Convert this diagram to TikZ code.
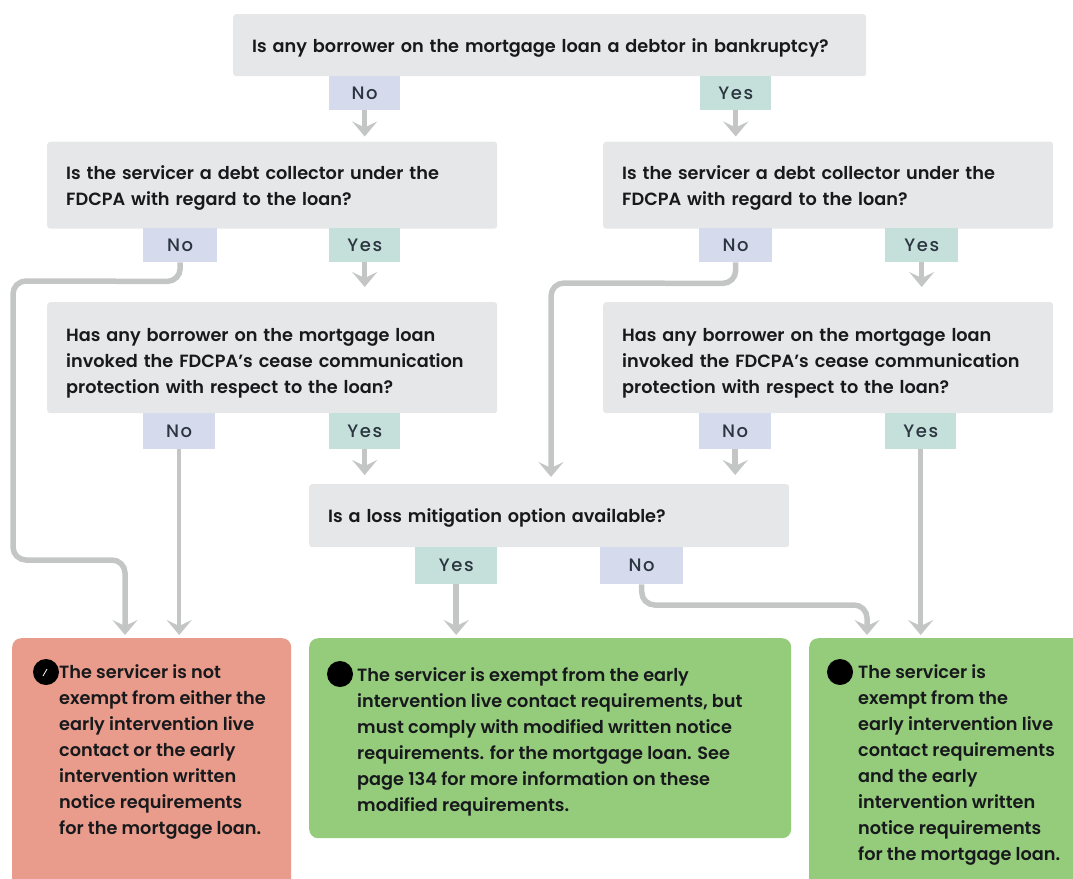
\documentclass[tikz,border=0pt]{standalone}
\usepackage{fontspec}
\setmainfont{Poppins}[UprightFont=* Medium,BoldFont=* SemiBold]
\usetikzlibrary{arrows.meta,calc}
\definecolor{qgray}{HTML}{E6E7E8}
\definecolor{nofill}{HTML}{D5DBEC}
\definecolor{yesfill}{HTML}{C5DFDB}
\definecolor{redfill}{HTML}{E99C8B}
\definecolor{greenfill}{HTML}{95CC7C}
\definecolor{linegray}{HTML}{C4C6C6}
\definecolor{ink}{HTML}{17191C}
\definecolor{tagink}{HTML}{2A3540}
\tikzset{
  x=1pt,y=-1pt,
  qbox/.style={fill=qgray,rounded corners=3pt,anchor=north west,inner xsep=19pt,inner ysep=0pt,align=left,text=ink,font=\fontsize{17.7}{26}\selectfont\bfseries},
  notag/.style={fill=nofill,anchor=north west,inner sep=0pt,align=center,text=tagink,font=\fontsize{18}{20}\selectfont\addfontfeatures{LetterSpace=9}},
  yestag/.style={notag,fill=yesfill},
  outcome/.style={rounded corners=9pt,anchor=north west,inner sep=0pt},
  outtext/.style={anchor=north west,inner sep=0pt,align=left,text=ink,font=\fontsize{17.7}{26}\selectfont\bfseries},
  dot/.style={circle,fill=black,inner sep=0pt,minimum size=26pt},
  flow/.style={draw=linegray,line width=5.5pt,rounded corners=13pt,-{Stealth[length=15pt,width=25pt,inset=6pt]}},
  thinflow/.style={flow,line width=4pt},
}
\newcommand{\bx}[6]{\node[#1,minimum width=#4pt,minimum height=#5pt] (#2) at #3 {#6};}
\newcommand{\qb}[6]{\node[qbox,text width=#3pt-38pt,minimum height=#4pt] (#1) at #2 {\rule{0pt}{#5pt}#6};}
\begin{document}
\begin{tikzpicture}
\useasboundingbox (0,0) rectangle (1073,878);
% questions
\qb{top}{(233,14)}{633}{62}{20}{Is any borrower on the mortgage loan a debtor in bankruptcy?}
\qb{qa}{(47,141.5)}{450}{87}{20}{Is the servicer a debt collector under the\\FDCPA with regard to the loan?}
\qb{qb}{(603,141.5)}{450}{87}{20}{Is the servicer a debt collector under the\\FDCPA with regard to the loan?}
\qb{qc}{(47,302)}{450}{111}{24}{Has any borrower on the mortgage loan\\invoked the FDCPA’s cease communication\\protection with respect to the loan?}
\qb{qd}{(603,302)}{450}{111}{24}{Has any borrower on the mortgage loan\\invoked the FDCPA’s cease communication\\protection with respect to the loan?}
\qb{loss}{(309,484)}{480}{63}{18}{Is a loss mitigation option available?}
% tags
\bx{notag}{n0}{(329,76)}{71}{34}{No}
\bx{yestag}{y0}{(700,76)}{71}{34}{Yes}
\bx{notag}{na}{(143,228)}{74}{34}{No}
\bx{yestag}{ya}{(329,228)}{71}{34}{Yes}
\bx{notag}{nb}{(699,228)}{73}{34}{No}
\bx{yestag}{yb}{(885,228)}{73}{34}{Yes}
\bx{notag}{nc}{(143,413)}{72}{36}{No}
\bx{yestag}{yc}{(329,413)}{71}{36}{Yes}
\bx{notag}{nd}{(699,413)}{72}{36}{No}
\bx{yestag}{yd}{(885,413)}{71}{36}{Yes}
\bx{yestag}{yl}{(415,547)}{82}{37}{Yes}
\bx{notag}{nl}{(600,547)}{83}{37}{No}
% outcomes
\bx{outcome,fill=redfill}{ored}{(12,638)}{279}{255}{}
\bx{outcome,fill=greenfill}{omid}{(309,638)}{482}{200}{}
\bx{outcome,fill=greenfill}{orgt}{(809,638)}{280}{255}{}
\node[dot] (dr) at (46,672) {};
\draw[white,line width=.8pt] (43,676) -- (47,669);
\node[dot] (dm) at (340,674) {};
\node[dot] (dg) at (840,672) {};
\node[outtext] (tr) at (59,664) {The servicer is not\\exempt from either the\\early intervention live\\contact or the early\\intervention written\\notice requirements\\for the mortgage loan.};
\node[outtext] (tm) at (357,667) {The servicer is exempt from the early\\intervention live contact requirements, but\\must comply with modified written notice\\requirements. for the mortgage loan. See\\page 134 for more information on these\\modified requirements.};
\node[outtext] (tg) at (858,664) {The servicer is\\exempt from the\\early intervention live\\contact requirements\\and the early\\intervention written\\notice requirements\\for the mortgage loan.};
% connectors
\draw[flow,shorten >=5pt] (n0.south) -- (n0.south |- qa.north);
\draw[flow,shorten >=5pt] (y0.south) -- (y0.south |- qb.north);
\draw[flow,shorten >=15pt] (ya.south) -- (ya.south |- qc.north);
\draw[flow,shorten >=15pt] (yb.south) -- (yb.south |- qd.north);
\draw[flow,shorten >=9pt] (yc.south) -- (yc.south |- loss.north);
\draw[flow,shorten >=9pt] (nd.south) -- (nd.south |- loss.north);
\draw[thinflow,shorten >=3pt] (nc.south) -- (nc.south |- ored.north);
\draw[flow,shorten >=3pt] (yl.south) -- (yl.south |- omid.north);
\draw[flow,shorten >=3pt] (yd.south) -- (yd.south |- orgt.north);
\draw[flow,shorten >=3pt] (na.south) -- ++(0,19) -- (13,281) -- (13,560) -- (125,560) -- (125,638);
\draw[flow,shorten >=7pt] (nb.south) -- ++(0,21) -- (551,283) -- (551,484);
\draw[flow,shorten >=3pt] (nl.south) |- (867,605) -- (867,638);
\end{tikzpicture}
\end{document}
